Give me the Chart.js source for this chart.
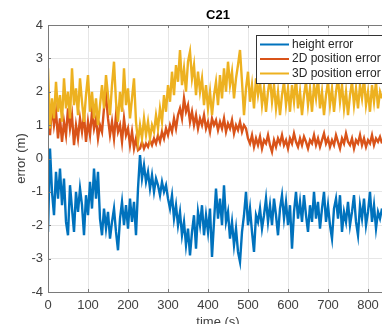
<!DOCTYPE html>
<html><head><meta charset="utf-8">
<script src="https://cdn.jsdelivr.net/npm/chart.js@4"></script>
<style>html,body{margin:0;padding:0;overflow:hidden;background:#fff}#wrap{width:396px;height:330px}</style>
</head><body><div id="wrap"><canvas id="c" width="396" height="330"></canvas></div>
<script>
const chartTitle = 'C21';
const seriesNames = ['height error', '2D position error', '3D position error'];
const seriesColors = ['#0072BD', '#D95319', '#EDB120'];
const xTickLabels = [0, 100, 200, 300, 400, 500, 600, 700, 800];
const yTickLabels = [-4, -3, -2, -1, 0, 1, 2, 3, 4];
const timeStep = 5;

const heightError = [
-2.2,0.3,-1.0,-1.7,-0.4,-1.2,-0.3,-1.4,-0.6,-1.9,-2.3,-0.8,-1.5,-2.2,-1.0,-1.6,-0.9,-1.4,-2.3,-1.1,
-1.7,-0.7,-1.5,-0.3,-1.2,-0.4,-1.8,-2.3,-1.5,-2.1,-1.6,-2.4,-1.9,-1.5,-2.2,-2.75,-1.8,-1.3,-2.0,-1.4,
-2.1,-1.2,-1.9,-1.3,-2.3,-0.9,0.1,-0.6,-0.2,-0.7,-0.4,-0.9,-0.5,-1.0,-0.6,-0.8,-1.1,-0.7,-1.0,-0.8,
-1.2,-1.5,-1.1,-1.8,-1.4,-2.0,-1.6,-2.3,-1.9,-2.6,-2.1,-2.9,-2.2,-1.7,-2.7,-1.6,-2.0,-1.4,-2.3,-1.7,
-2.2,-1.5,-2.95,-1.9,-0.9,-1.8,-1.2,-2.0,-0.8,-1.9,-1.6,-2.4,-1.9,-2.6,-2.1,-2.8,-3.1,-2.2,-1.7,-1.0,
-2.0,-1.5,-2.2,-2.8,-1.7,-1.9,-1.5,-2.1,-1.7,-1.2,-1.9,-1.4,-2.0,-1.2,-1.7,-2.3,-1.5,-1.1,-1.8,-1.3,
-2.0,-1.4,-2.7,-1.6,-1.0,-1.8,-1.3,-1.9,-1.1,-1.7,-2.2,-1.4,-1.9,-1.0,-1.8,-1.3,-2.1,-1.5,-1.0,-1.9,
-1.4,-2.0,-2.4,-1.5,-1.2,-1.8,-1.1,-2.2,-1.6,-1.9,-1.3,-2.0,-1.6,-1.1,-1.9,-2.3,-1.4,-1.8,-1.2,-2.0,
-1.6,-1.0,-1.9,-1.4,-2.1,-1.6,-1.8,-1.5
];
const pos2DError = [
1.3,0.7,1.6,1.0,1.4,0.6,1.2,0.5,1.1,0.7,1.5,0.9,1.3,0.4,1.0,0.6,1.2,0.8,1.3,0.5,
1.1,0.7,1.4,0.9,1.2,0.6,1.0,0.8,1.5,1.9,1.2,0.7,1.1,0.6,1.3,0.8,1.0,0.5,1.2,0.7,
0.9,0.4,0.8,0.3,0.6,0.25,0.3,0.5,0.3,0.45,0.35,0.55,0.4,0.6,0.45,0.7,0.5,0.8,0.6,0.9,
0.7,1.0,0.8,1.2,0.9,1.3,1.5,1.2,1.8,1.4,1.6,1.1,1.4,1.0,1.3,0.9,1.2,1.0,1.3,0.9,
1.1,0.8,1.2,1.0,1.15,0.85,1.1,0.9,1.2,0.8,1.05,0.9,1.15,0.75,1.0,0.85,1.1,0.8,1.0,0.9,
0.6,0.45,0.7,0.35,0.6,0.4,0.65,0.3,0.55,0.45,0.7,0.4,0.2,0.55,0.35,0.6,0.45,0.7,0.4,0.55,
0.3,0.6,0.45,0.75,0.5,0.35,0.6,0.4,0.65,0.5,0.3,0.55,0.45,0.7,0.4,0.6,0.35,0.55,0.75,0.45,
0.6,0.35,0.55,0.4,0.7,0.5,0.3,0.6,0.45,0.75,0.5,0.4,0.6,0.3,0.55,0.45,0.7,0.4,0.6,0.35,
0.55,0.45,0.7,0.4,0.6,0.5,0.65,0.45
];
const pos3DError = [
2.7,0.9,1.8,1.2,2.3,1.4,1.9,1.1,2.4,1.5,2.0,1.2,2.7,1.6,2.1,1.3,2.4,1.7,1.1,1.9,
2.5,1.4,2.0,1.2,1.8,1.0,1.6,2.2,1.5,2.5,1.9,1.3,2.2,2.9,1.7,1.1,2.0,1.4,2.7,1.6,
2.1,1.2,1.8,2.4,1.1,0.5,1.0,0.6,1.2,0.7,1.1,0.6,1.0,0.8,1.3,0.9,1.5,1.1,1.9,1.4,
2.2,1.7,2.6,1.9,2.8,2.3,3.25,2.2,2.7,2.0,2.9,3.2,2.4,2.8,1.9,2.6,2.0,2.4,1.6,2.2,
1.5,2.0,1.3,1.9,2.3,1.6,2.5,1.8,2.7,2.0,2.9,2.2,2.6,1.8,2.4,2.8,3.25,2.3,1.3,2.1,
2.6,1.7,2.2,1.5,2.4,1.9,2.3,1.6,2.1,1.4,2.0,2.4,1.7,2.2,1.5,2.0,1.3,1.9,2.3,1.6,
2.1,1.4,2.2,1.7,2.4,1.5,2.0,1.3,1.9,2.3,1.6,2.1,1.4,2.2,1.8,2.4,1.5,2.0,1.3,1.9,
2.3,1.6,2.1,1.4,2.0,2.4,1.7,2.2,1.5,2.0,1.3,1.9,2.3,1.6,2.1,1.5,2.2,1.8,2.4,1.6,
2.0,1.4,2.2,1.7,2.3,1.5,2.0,1.8
];

const times = heightError.map((_, i) => i * timeStep);
const toPts = arr => arr.map((v, i) => ({x: times[i], y: v}));
const allSeries = [heightError, pos2DError, pos3DError];

const FONT = "'Liberation Sans', Arial, Helvetica, sans-serif";
const frameColor = '#7a7a7a';

const framePlugin = {
  id: 'frame',
  afterDatasetsDraw(chart) {
    const {ctx, chartArea: a, scales} = chart;
    ctx.save();
    ctx.strokeStyle = frameColor;
    ctx.lineWidth = 1;
    ctx.beginPath();
    ctx.rect(Math.round(a.left) + 0.5, Math.round(a.top) + 0.5, Math.round(a.right - a.left), Math.round(a.bottom - a.top));
    ctx.stroke();
    ctx.beginPath();
    xTickLabels.forEach(v => {
      const px = Math.round(scales.x.getPixelForValue(v)) + 0.5;
      ctx.moveTo(px, a.bottom); ctx.lineTo(px, a.bottom - 3);
      ctx.moveTo(px, a.top); ctx.lineTo(px, a.top + 3);
    });
    yTickLabels.forEach(v => {
      const py = Math.round(scales.y.getPixelForValue(v)) + 0.5;
      ctx.moveTo(a.left, py); ctx.lineTo(a.left + 3, py);
      ctx.moveTo(a.right, py); ctx.lineTo(a.right - 3, py);
    });
    ctx.stroke();
    ctx.restore();
  },
  afterDraw(chart) {
    const {ctx, chartArea: a} = chart;
    const bx = a.right - 132, by = a.top + 10, bw = 128, bh = 48;
    ctx.save();
    ctx.fillStyle = '#fff';
    ctx.fillRect(bx, by, bw, bh);
    ctx.strokeStyle = '#333';
    ctx.lineWidth = 1;
    ctx.strokeRect(bx + 0.5, by + 0.5, bw, bh);
    ctx.font = '12px ' + FONT;
    ctx.textBaseline = 'middle';
    ctx.textAlign = 'left';
    chart.data.datasets.forEach((ds, i) => {
      const y = by + 9.5 + i * 14.5;
      ctx.strokeStyle = ds.borderColor;
      ctx.lineWidth = 2;
      ctx.beginPath(); ctx.moveTo(bx + 4, y); ctx.lineTo(bx + 33, y); ctx.stroke();
      ctx.fillStyle = '#262626';
      ctx.fillText(ds.label, bx + 36, y);
    });
    ctx.restore();
  }
};

new Chart(document.getElementById('c'), {
  type: 'line',
  data: {
    datasets: allSeries.map((arr, i) => ({
      label: seriesNames[i],
      data: toPts(arr),
      borderColor: seriesColors[i],
      backgroundColor: seriesColors[i],
      borderWidth: 2.4,
      pointRadius: 0,
      tension: 0,
      fill: false,
      order: 2 - i
    }))
  },
  options: {
    responsive: false,
    animation: false,
    devicePixelRatio: 1,
    layout: {padding: {left: 0, right: 8, top: 0, bottom: 0}},
    plugins: {
      legend: {display: false},
      tooltip: {enabled: false},
      title: {
        display: true, text: chartTitle, fullSize: false,
        color: '#000', font: {family: FONT, size: 13, weight: 'bold'},
        padding: {top: 8, bottom: 1.4}
      }
    },
    scales: {
      x: {
        type: 'linear', min: 0, max: 850,
        afterBuildTicks: s => { s.ticks = xTickLabels.map(v => ({value: v})); },
        afterFit: s => { s.height = 38; },
        grid: {color: '#e6e6e6', drawTicks: false},
        border: {display: false},
        ticks: {color: '#404040', font: {family: FONT, size: 13}, padding: 6, maxRotation: 0, autoSkip: false},
        title: {display: true, text: 'time (s)', color: '#404040', font: {family: FONT, size: 13}, padding: {top: 0, bottom: 0}}
      },
      y: {
        min: -4, max: 4,
        afterBuildTicks: s => { s.ticks = yTickLabels.map(v => ({value: v})); },
        afterFit: s => { s.width = 48; },
        grid: {color: '#e6e6e6', drawTicks: false},
        border: {display: false},
        ticks: {color: '#404040', font: {family: FONT, size: 13}, padding: 5},
        title: {display: true, text: 'error (m)', color: '#404040', font: {family: FONT, size: 13}, padding: {top: 14, bottom: 0}}
      }
    }
  },
  plugins: [framePlugin]
});
</script>
</body></html>
